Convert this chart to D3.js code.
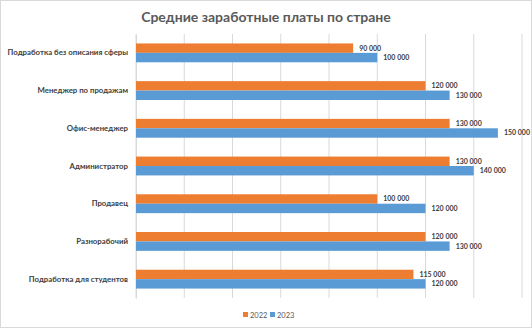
<!DOCTYPE html>
<html><head><meta charset="utf-8">
<script src="https://cdn.jsdelivr.net/npm/d3@7"></script>
<style>body{margin:0;background:#fff}svg{display:block}</style>
</head><body>
<script>
const categories = ["Подработка без описания сферы","Менеджер по продажам","Офис-менеджер","Администратор","Продавец","Разнорабочий","Подработка для студентов"];
const values2022 = [90000,120000,130000,130000,100000,120000,115000];
const values2023 = [100000,130000,150000,140000,120000,130000,120000];
const seriesNames = ["2022","2023"];
const colors = ["#ED7D31","#5B9BD5"];
const xTicks = [0,20000,40000,60000,80000,100000,120000,140000,160000];

const W=532,H=328;
const svg=d3.select("body").append("svg").attr("width",W).attr("height",H);
svg.append("rect").attr("x",0.5).attr("y",0.5).attr("width",W-1).attr("height",H-1).attr("fill","#fff").attr("stroke","#d9d9d9");
const font="Lato, 'Open Sans', sans-serif";
const x=d3.scaleLinear().domain([0,160000]).range([136,522]);
const y=d3.scaleBand().domain(categories).range([34,298]).paddingInner(0.5).paddingOuter(0.25);
const ys=d3.scaleBand().domain(seriesNames).range([0,y.bandwidth()]);

svg.append("text").attr("x",266).attr("y",22).attr("text-anchor","middle").attr("font-family",font).attr("font-weight","bold").attr("font-size",14).attr("fill","#595959").text("Средние заработные платы по стране");

const g=svg.append("g");
g.selectAll("line.grid").data(xTicks).join("line").attr("class","grid").attr("x1",d=>x(d)).attr("x2",d=>x(d)).attr("y1",34).attr("y2",298).attr("stroke","#d9d9d9").attr("stroke-width",1);

const yAxis=g.append("g").attr("transform","translate(136,0)").call(d3.axisLeft(y).tickSize(0).tickPadding(8));
yAxis.select(".domain").attr("stroke","#d9d9d9");
yAxis.selectAll("text").attr("font-family",font).attr("font-weight","bold").attr("font-size",7.8).attr("fill","#404040");

const rows=categories.map((c,i)=>({c,vals:[values2022[i],values2023[i]]}));
const fmt=v=>d3.format(",")(v).replace(/,/g," ");
rows.forEach(r=>{
  r.vals.forEach((v,j)=>{
    const yy=y(r.c)+ys(seriesNames[j]);
    g.append("rect").attr("x",x(0)).attr("y",yy).attr("width",x(v)-x(0)).attr("height",ys.bandwidth()).attr("fill",colors[j]);
    g.append("text").attr("x",x(v)+6).attr("y",yy+ys.bandwidth()/2).attr("dy","0.35em").attr("font-family",font).attr("font-size",7).attr("font-weight","bold").attr("fill","#404040").text(fmt(v));
  });
});

const leg=svg.append("g");
const lx=[243,270];
seriesNames.forEach((s,j)=>{
  leg.append("rect").attr("x",lx[j]).attr("y",312).attr("width",5).attr("height",5).attr("fill",colors[j]);
  leg.append("text").attr("x",lx[j]+7).attr("y",315).attr("dy","0.35em").attr("font-family",font).attr("font-size",7.5).attr("fill","#595959").text(s);
});
</script>
</body></html>
